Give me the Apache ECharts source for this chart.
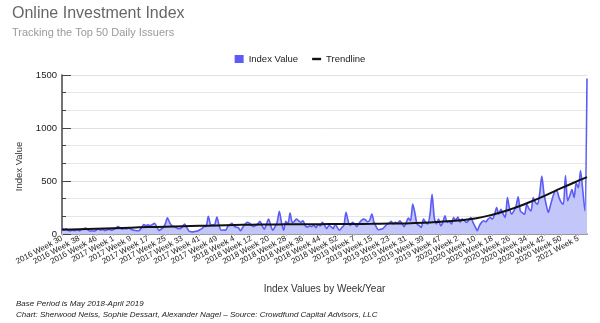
<!DOCTYPE html>
<html>
<head>
<meta charset="utf-8">
<script src="https://cdn.jsdelivr.net/npm/echarts@6/dist/echarts.min.js"></script>
<style>
  html, body { margin: 0; padding: 0; background: #ffffff; }
  #chart { width: 600px; height: 323px; }
</style>
</head>
<body>
<div id="chart"></div>
<script>
// Weekly index, first week is 2016 Week 30; the calendar uses weeks 1..53
const startYear = 2016;
const startWeek = 30;
const weeksPerYear = 53;

// Weekly index values
const indexValues = [
  58, 45, 50, 33, 30, 35, 32, 38, 30, 42, 48, 56, 40, 28, 30, 28, 38, 50, 36, 42,
  33, 40, 45, 36, 42, 55, 70, 58, 46, 52, 48, 60, 45, 38, 33, 30, 35, 60, 89, 80,
  86, 78, 90, 100, 70, 33, 45, 60, 95, 152, 110, 80, 70, 62, 50, 52, 70, 95, 60, 28,
  22, 20, 25, 28, 40, 50, 70, 72, 167, 90, 85, 90, 160, 80, 35, 38, 35, 70, 85, 100,
  75, 64, 60, 30, 64, 90, 110, 105, 85, 70, 80, 95, 120, 80, 45, 90, 142, 80, 35, 70,
  110, 214, 110, 35, 120, 95, 198, 110, 120, 140, 125, 110, 125, 80, 65, 75, 70, 85, 60, 90,
  75, 110, 85, 50, 80, 70, 50, 95, 60, 35, 60, 80, 204, 120, 80, 110, 95, 70, 100, 125,
  140, 135, 115, 130, 189, 110, 70, 40, 45, 50, 70, 90, 100, 120, 95, 110, 100, 125, 100, 70,
  110, 150, 125, 283, 200, 94, 80, 62, 140, 110, 94, 180, 374, 156, 94, 140, 78, 110, 172, 110,
  120, 94, 156, 130, 160, 110, 140, 125, 110, 130, 156, 110, 70, 31, 80, 110, 125, 115, 140, 156,
  140, 180, 250, 187, 234, 190, 156, 343, 240, 187, 218, 260, 350, 218, 200, 187, 281, 240, 218, 343,
  300, 281, 380, 546, 380, 281, 203, 270, 343, 400, 405, 343, 300, 281, 552, 312, 360, 420, 343, 480,
  437, 599, 420, 218, 1466
];

// Trendline samples: week position and level
const trendIndex  = [0, 8, 16, 24, 32, 40, 48, 56, 64, 72, 80, 88, 96, 104, 112, 120, 128, 136, 144, 152, 160, 168, 176, 184, 192, 200, 208, 216, 224, 232, 240, 244];
const trendValues = [40, 45, 50, 55, 60, 65, 69, 73, 77, 81, 85, 88, 90, 91, 92, 93, 94, 95, 96, 98, 100, 106, 116, 128, 146, 182, 230, 290, 358, 432, 503, 537];

// Y axis range
const yMin = 0;
const yMax = 1500;
const yStep = 500;

const categories = indexValues.map(function (_, i) {
  let week = startWeek + i;
  let year = startYear;
  while (week > weeksPerYear) { week -= weeksPerYear; year += 1; }
  return year + ' Week ' + week;
});

const trendData = trendIndex.map(function (x, k) { return [x, trendValues[k]]; });

const FONT = "'Liberation Sans', Arial, sans-serif";

// Flat bar for the trendline legend entry; the bare moves keep the 9x8 box
const lineIcon = 'path://M0,0 M0,2.8 L9,2.8 L9,5.2 L0,5.2 Z M9,8';

const chart = echarts.init(document.getElementById('chart'), null, { renderer: 'canvas' });

chart.setOption({
  animation: false,
  backgroundColor: '#ffffff',
  textStyle: { fontFamily: FONT },
  title: {
    text: 'Online Investment Index',
    subtext: 'Tracking the Top 50 Daily Issuers',
    left: 12,
    top: 6,
    itemGap: 5,
    padding: 0,
    textStyle: { fontFamily: FONT, fontSize: 16, fontWeight: 'normal', color: '#666666' },
    subtextStyle: { fontFamily: FONT, fontSize: 11, color: '#9a9a9a' }
  },
  legend: {
    left: 'center',
    top: 49,
    itemWidth: 9,
    itemHeight: 8,
    itemGap: 14,
    textStyle: { fontFamily: FONT, fontSize: 9.5, color: '#222222' },
    data: [
      { name: 'Index Value', icon: 'rect', itemStyle: { color: '#5c5cf4' } },
      { name: 'Trendline', icon: lineIcon, itemStyle: { color: '#111111' } }
    ]
  },
  grid: { left: 62, right: 13, top: 75, bottom: 89, containLabel: false },
  xAxis: {
    type: 'category',
    data: categories,
    boundaryGap: false,
    name: 'Index Values by Week/Year',
    nameLocation: 'middle',
    nameGap: 50,
    nameTextStyle: { fontFamily: FONT, fontSize: 10, color: '#333333' },
    axisLine: { show: true, lineStyle: { color: '#9a9a9a', width: 2 } },
    axisTick: { show: true, interval: 7, length: 2, lineStyle: { color: '#bbbbbb' } },
    axisLabel: { interval: 7, rotate: 28, fontSize: 8, color: '#1a1a1a', margin: 4, fontFamily: FONT },
    splitLine: { show: false }
  },
  yAxis: {
    type: 'value',
    min: yMin,
    max: yMax,
    interval: yStep,
    name: 'Index Value',
    nameLocation: 'middle',
    nameGap: 38,
    nameTextStyle: { fontFamily: FONT, fontSize: 9.5, color: '#333333', padding: [0, 24, 0, 0] },
    axisLine: { show: true, lineStyle: { color: '#444444', width: 1.5 } },
    axisTick: { show: true, inside: true, length: 9, lineStyle: { color: '#444444', width: 1 } },
    minorTick: { show: true, splitNumber: 3, length: 4, lineStyle: { color: '#444444', width: 1 } },
    axisLabel: {
      fontSize: 9.5, color: '#222222', margin: 5, fontFamily: FONT,
      formatter: function (v) { return String(v); }
    },
    splitLine: { show: true, lineStyle: { color: '#e0e0e0', width: 1 } },
    minorSplitLine: { show: true, lineStyle: { color: '#e6e6e6', width: 1 } }
  },
  series: [
    {
      name: 'Index Value',
      type: 'line',
      data: indexValues,
      smooth: 0.25,
      symbol: 'none',
      showSymbol: false,
      lineStyle: { color: '#5b5bf5', width: 1.6 },
      itemStyle: { color: '#5c5cf4' },
      areaStyle: { color: '#c3c6f8', opacity: 1 },
      z: 2
    },
    {
      name: 'Trendline',
      type: 'line',
      data: trendData,
      smooth: 0.5,
      symbol: 'none',
      showSymbol: false,
      lineStyle: { color: '#111111', width: 2 },
      itemStyle: { color: '#111111' },
      z: 3
    }
  ],
  graphic: [
    {
      type: 'text',
      left: 16,
      top: 300,
      style: { text: 'Base Period is May 2018-April 2019', font: 'italic 8px ' + FONT, fill: '#222222' }
    },
    {
      type: 'text',
      left: 16,
      top: 311,
      style: { text: 'Chart: Sherwood Neiss, Sophie Dessart, Alexander Nagel \u2013 Source: Crowdfund Capital Advisors, LLC', font: 'italic 8px ' + FONT, fill: '#222222' }
    }
  ]
});
</script>
</body>
</html>
